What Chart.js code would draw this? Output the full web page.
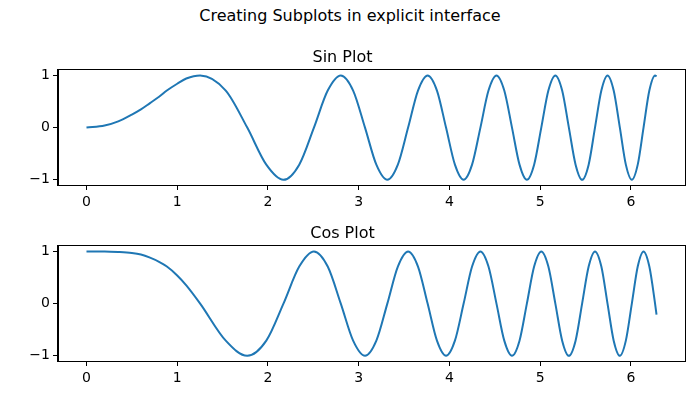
<!DOCTYPE html>
<html>
<head>
<meta charset="utf-8">
<script src="https://cdn.jsdelivr.net/npm/chart.js@4.4.1/dist/chart.umd.min.js"></script>
<style>
  body { margin: 0; background: #fff; width: 700px; height: 400px; position: relative; overflow: hidden; }
  #suptitle { position: absolute; left: 0; top: 6px; width: 700px; height: 20px; line-height: 20px;
              text-align: center; font-family: "DejaVu Sans", sans-serif; font-size: 16px; color: #000; }
  canvas { position: absolute; left: 0; }
  #sinChart { top: 30px; }
  #cosChart { top: 206px; }
</style>
</head>
<body>
<div id="suptitle">Creating Subplots in explicit interface</div>
<canvas id="sinChart" width="700" height="185"></canvas>
<canvas id="cosChart" width="700" height="185"></canvas>
<script>
// values (x shared by both)
const xValues = [0, 0.2, 0.35, 0.5, 0.6, 0.7, 0.8, 0.886, 1.0, 1.1, 1.253,
    1.535, 1.772, 1.982, 2.171, 2.345, 2.507, 2.659, 2.803,
    2.939, 3.070, 3.195, 3.316, 3.432, 3.545, 3.654, 3.760,
    3.863, 3.963, 4.061, 4.157, 4.250, 4.342, 4.431, 4.519,
    4.605, 4.690, 4.773, 4.854, 4.934, 5.013, 5.091, 5.168,
    5.243, 5.317, 5.391, 5.463, 5.535, 5.605, 5.675, 5.743,
    5.811, 5.879, 5.945, 6.011, 6.076, 6.140, 6.204, 6.267,
    6.283];

const sinValues = [0, 0.04, 0.12, 0.25, 0.35, 0.47, 0.59, 0.71, 0.84, 0.94, 1,
    0.71, 0, -0.71, -1, -0.71, 0, 0.71, 1,
    0.71, 0, -0.71, -1, -0.71, 0, 0.71, 1,
    0.71, 0, -0.71, -1, -0.71, 0, 0.71, 1,
    0.71, 0, -0.71, -1, -0.71, 0, 0.71, 1,
    0.71, 0, -0.71, -1, -0.71, 0, 0.71, 1,
    0.71, 0, -0.71, -1, -0.71, 0, 0.71, 1,
    0.98];

const cosValues = [1, 1, 0.99, 0.97, 0.94, 0.88, 0.80, 0.71, 0.54, 0.35, 0,
    -0.71, -1, -0.71, 0, 0.71, 1, 0.71, 0,
    -0.71, -1, -0.71, 0, 0.71, 1, 0.71, 0,
    -0.71, -1, -0.71, 0, 0.71, 1, 0.71, 0,
    -0.71, -1, -0.71, 0, 0.71, 1, 0.71, 0,
    -0.71, -1, -0.71, 0, 0.71, 1, 0.71, 0,
    -0.71, -1, -0.71, 0, 0.71, 1, 0.71, 0,
    -0.21];

const xTicks = [0, 1, 2, 3, 4, 5, 6];
const yTicks = [-1, 0, 1];

const FONT = "'DejaVu Sans', sans-serif";

// draw the full box around the plot area like matplotlib spines
const framePlugin = {
    id: 'frame',
    afterDraw(chart) {
        const a = chart.chartArea;
        const ctx = chart.ctx;
        ctx.save();
        ctx.strokeStyle = '#000';
        ctx.lineWidth = 1;
        ctx.strokeRect(Math.round(a.left) - 0.5, Math.round(a.top) - 0.5,
            Math.round(a.right - a.left) + 1, Math.round(a.bottom - a.top) + 1);
        ctx.restore();
    }
};

function makeChart(canvasId, title, values) {
    const ctx = document.getElementById(canvasId).getContext('2d');
    return new Chart(ctx, {
        type: 'line',
        data: {
            datasets: [{
                data: xValues.map((x, i) => ({ x: x, y: values[i] })),
                borderColor: '#1f77b4',
                borderWidth: 2,
                pointRadius: 0,
                cubicInterpolationMode: 'monotone',
                fill: false
            }]
        },
        options: {
            responsive: false,
            animation: false,
            devicePixelRatio: 1,
            layout: { padding: { left: 0, right: 15, top: 0, bottom: 0 } },
            plugins: {
                legend: { display: false },
                tooltip: { enabled: false },
                title: {
                    display: true,
                    text: title,
                    color: '#000',
                    font: { family: FONT, size: 16, weight: 'normal' },
                    padding: { top: 18, bottom: 3 }
                }
            },
            scales: {
                x: {
                    type: 'linear',
                    min: -0.314,
                    max: 6.597,
                    afterBuildTicks: (axis) => { axis.ticks = xTicks.map(v => ({ value: v })); },
                    afterFit: (axis) => { axis.height = 30; },
                    grid: { drawOnChartArea: false, drawTicks: true, tickLength: 5, color: '#000', tickColor: '#000' },
                    border: { display: true, color: '#000', width: 1 },
                    ticks: {
                        color: '#000',
                        padding: 4,
                        maxRotation: 0,
                        font: { family: FONT, size: 14 },
                        callback: (v) => String(v)
                    }
                },
                y: {
                    type: 'linear',
                    min: -1.1,
                    max: 1.1,
                    afterBuildTicks: (axis) => { axis.ticks = yTicks.map(v => ({ value: v })); },
                    afterFit: (axis) => { axis.width = 58; },
                    grid: { drawOnChartArea: false, drawTicks: true, tickLength: 5, color: '#000', tickColor: '#000' },
                    border: { display: true, color: '#000', width: 1 },
                    ticks: {
                        color: '#000',
                        padding: 3,
                        font: { family: FONT, size: 14 },
                        callback: (v) => v < 0 ? '\u2212' + Math.abs(v) : String(v)
                    }
                }
            }
        },
        plugins: [framePlugin]
    });
}

makeChart('sinChart', 'Sin Plot', sinValues);
makeChart('cosChart', 'Cos Plot', cosValues);
</script>
</body>
</html>
